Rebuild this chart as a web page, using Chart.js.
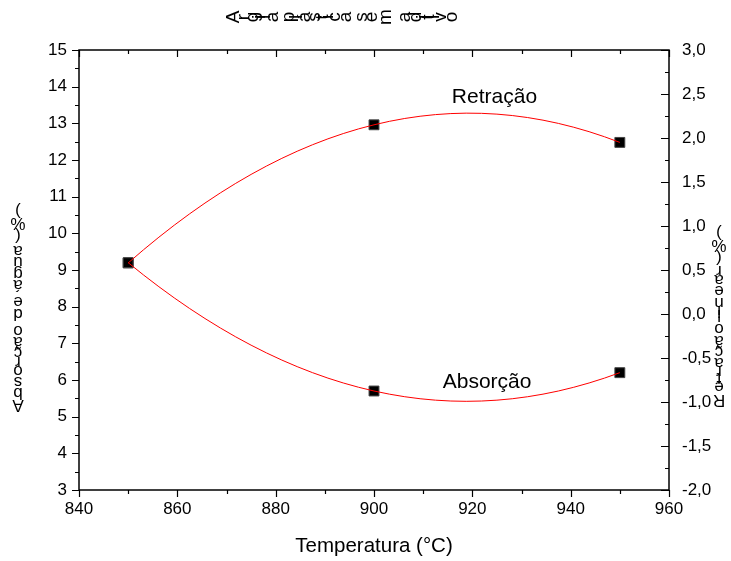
<!DOCTYPE html>
<html><head><meta charset="utf-8">
<script src="https://cdn.jsdelivr.net/npm/chart.js@4/dist/chart.umd.min.js"></script>
<style>html,body{margin:0;padding:0;background:#fff}#wrap{width:731px;height:561px}</style>
</head><body><div id="wrap"><canvas id="c" width="731" height="561"></canvas></div>
<script>
// ---- data ----
const temperatures = [850, 900, 950];
const absorcao = [9.2, 5.7, 6.2];          // left axis (%)
const retracao = [0.58, 2.15, 1.95];       // right axis (%)
const xTickValues = [840, 860, 880, 900, 920, 940, 960];
const leftTickValues = [3, 4, 5, 6, 7, 8, 9, 10, 11, 12, 13, 14, 15];
const rightTickValues = [-2, -1.5, -1, -0.5, 0, 0.5, 1, 1.5, 2, 2.5, 3];
const rightTickLabels = ['-2,0', '-1,5', '-1,0', '-0,5', '0,0', '0,5', '1,0', '1,5', '2,0', '2,5', '3,0'];
const titleText = 'Argila plástica sem aditivo';
const leftTitle = 'Absorção de água (%)';
const rightTitle = 'Retração linear (%)';
const xTitle = 'Temperatura (°C)';
const seriesNames = ['Absorção', 'Retração'];

const FONT = '"Liberation Sans", Arial, sans-serif';

function glyphText(ctx, text, opts) {
  ctx.save();
  ctx.font = opts.size + 'px ' + FONT;
  ctx.fillStyle = '#000';
  ctx.textAlign = 'center';
  ctx.textBaseline = 'middle';
  const widths = [...text].map(ch => ctx.measureText(ch).width);
  const total = widths.reduce((a, b) => a + b, 0);
  const k = opts.span / total;
  let pos = 0;
  [...text].forEach((ch, i) => {
    const c = pos + widths[i] * k / 2;
    pos += widths[i] * k;
    ctx.save();
    if (opts.dir === 'h') ctx.translate(opts.start + c, opts.cross);
    else ctx.translate(opts.cross, opts.start - c);
    ctx.rotate(opts.rot);
    ctx.fillText(ch, 0, 0);
    ctx.restore();
  });
  ctx.restore();
}

// smooth curve through the points with parabolic end conditions (tangents from the data)
const parabolicSpline = {
  id: 'parabolicSpline',
  beforeDatasetDraw(chart, args) {
    const meta = args.meta;
    const line = meta.dataset;
    if (!line || !line.updateControlPoints || !line.options || !line.options.tension) return;
    const pts = meta.data;
    const n = pts.length;
    if (n < 3) return;
    line.updateControlPoints(chart.chartArea, 'x');
    const m = new Array(n);
    for (let i = 1; i < n - 1; i++) m[i] = (pts[i + 1].y - pts[i - 1].y) / (pts[i + 1].x - pts[i - 1].x);
    m[0] = 2 * (pts[1].y - pts[0].y) / (pts[1].x - pts[0].x) - m[1];
    m[n - 1] = 2 * (pts[n - 1].y - pts[n - 2].y) / (pts[n - 1].x - pts[n - 2].x) - m[n - 2];
    for (let i = 0; i < n; i++) {
      if (i > 0) { const h = (pts[i].x - pts[i - 1].x) / 3; pts[i].cp1x = pts[i].x - h; pts[i].cp1y = pts[i].y - m[i] * h; }
      if (i < n - 1) { const h = (pts[i + 1].x - pts[i].x) / 3; pts[i].cp2x = pts[i].x + h; pts[i].cp2y = pts[i].y + m[i] * h; }
    }
    line._path = undefined;
  }
};

const decor = {
  id: 'decor',
  beforeDraw(chart) {
    const ctx = chart.ctx;
    ctx.save(); ctx.fillStyle = '#fff'; ctx.fillRect(0, 0, chart.width, chart.height); ctx.restore();
  },
  afterDraw(chart) {
    const ctx = chart.ctx, a = chart.chartArea;
    const xs = chart.scales.x, yl = chart.scales.y, yr = chart.scales.y2;
    ctx.save();
    ctx.strokeStyle = '#000';
    ctx.lineWidth = 1.5;
    ctx.strokeRect(a.left, a.top, a.right - a.left, a.bottom - a.top);
    ctx.lineWidth = 1.2;
    ctx.beginPath();
    for (let v = 840; v <= 960; v += 10) {
      const p = Math.round(xs.getPixelForValue(v)) + 0.5;
      const L = (v % 20 === 0) ? 7 : 4;
      ctx.moveTo(p, a.bottom); ctx.lineTo(p, a.bottom + L);
      ctx.moveTo(p, a.top); ctx.lineTo(p, a.top + L);
    }
    for (let v = 3; v <= 15; v += 0.5) {
      const p = Math.round(yl.getPixelForValue(v)) + 0.5;
      const L = (v % 1 === 0) ? 7 : 4;
      ctx.moveTo(a.left, p); ctx.lineTo(a.left - L, p);
    }
    for (let v = -2; v <= 3; v += 0.25) {
      const p = Math.round(yr.getPixelForValue(v)) + 0.5;
      const L = (Math.abs(v * 2 - Math.round(v * 2)) < 1e-9) ? 8 : 4;
      ctx.moveTo(a.right, p); ctx.lineTo(a.right - L, p);
    }
    ctx.stroke();

    ctx.fillStyle = '#000';
    ctx.font = '21px ' + FONT;
    ctx.textAlign = 'center'; ctx.textBaseline = 'middle';
    ctx.fillText(seriesNames[1], xs.getPixelForValue(924.5), yl.getPixelForValue(13.7));
    ctx.fillText(seriesNames[0], xs.getPixelForValue(923), yl.getPixelForValue(5.95));

    ctx.font = '20.5px ' + FONT;
    ctx.fillText(xTitle, (a.left + a.right) / 2, 546);
    ctx.restore();

    glyphText(ctx, titleText, {dir: 'h', start: 227, span: 230, cross: 17, rot: -Math.PI / 2, size: 19});
    glyphText(ctx, leftTitle, {dir: 'v', start: 412, span: 205, cross: 18, rot: Math.PI, size: 17});
    glyphText(ctx, rightTitle, {dir: 'v', start: 407, span: 178, cross: 719, rot: Math.PI, size: 17});
  }
};

const tickFont = {family: FONT, size: 17};

new Chart(document.getElementById('c'), {
  type: 'line',
  data: {
    datasets: [
      {label: seriesNames[0], data: temperatures.map((t, i) => ({x: t, y: absorcao[i]})), yAxisID: 'y',
       borderColor: '#ff0000', borderWidth: 1, tension: 0.4, pointRadius: 0, fill: false, order: 1},
      {label: seriesNames[1], data: temperatures.map((t, i) => ({x: t, y: retracao[i]})), yAxisID: 'y2',
       borderColor: '#ff0000', borderWidth: 1, tension: 0.4, pointRadius: 0, fill: false, order: 1},
      {label: seriesNames[0] + ' pts', data: temperatures.map((t, i) => ({x: t, y: absorcao[i]})), yAxisID: 'y',
       showLine: false, tension: 0, pointStyle: 'rect', pointRadius: 7, pointBackgroundColor: '#000', pointBorderColor: '#444', pointBorderWidth: 1, order: 2},
      {label: seriesNames[1] + ' pts', data: temperatures.map((t, i) => ({x: t, y: retracao[i]})), yAxisID: 'y2',
       showLine: false, tension: 0, pointStyle: 'rect', pointRadius: 7, pointBackgroundColor: '#000', pointBorderColor: '#444', pointBorderWidth: 1, order: 2}
    ]
  },
  options: {
    responsive: false, animation: false, devicePixelRatio: 1,
    layout: {padding: {top: 50, left: 0, right: 0, bottom: 0}},
    plugins: {legend: {display: false}, tooltip: {enabled: false}, title: {display: false}},
    scales: {
      x: {type: 'linear', min: 840, max: 960, position: 'bottom',
          afterFit: s => { s.height = 71; },
          afterBuildTicks: s => { s.ticks = xTickValues.map(v => ({value: v})); },
          grid: {display: false, drawTicks: false}, border: {display: false},
          ticks: {color: '#000', font: tickFont, padding: 9, maxRotation: 0}},
      y: {type: 'linear', min: 3, max: 15, position: 'left',
          afterFit: s => { s.width = 79; },
          afterBuildTicks: s => { s.ticks = leftTickValues.map(v => ({value: v})); },
          grid: {display: false, drawTicks: false}, border: {display: false},
          ticks: {color: '#000', font: tickFont, padding: 12}},
      y2: {type: 'linear', min: -2, max: 3, position: 'right',
          afterFit: s => { s.width = 62; },
          afterBuildTicks: s => { s.ticks = rightTickValues.map(v => ({value: v})); },
          grid: {display: false, drawTicks: false}, border: {display: false},
          ticks: {color: '#000', font: tickFont, padding: 13,
                  callback: (v) => { const i = rightTickValues.indexOf(v); return i >= 0 ? rightTickLabels[i] : ''; }}}
    }
  },
  plugins: [parabolicSpline, decor]
});
</script>
</body></html>
